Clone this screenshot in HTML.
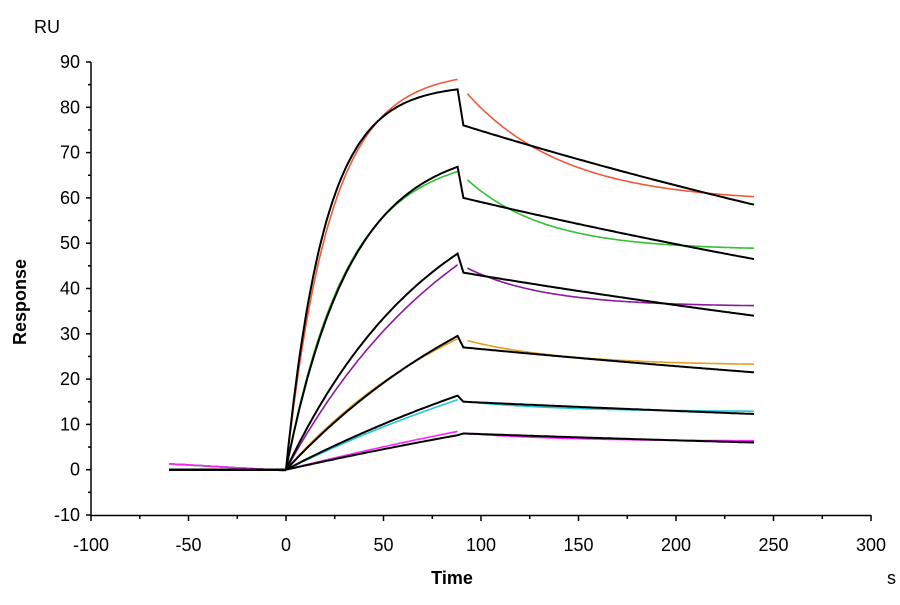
<!DOCTYPE html>
<html><head><meta charset="utf-8"><style>
body{margin:0;background:#fff}
svg text{font-family:"Liberation Sans",Arial,sans-serif;fill:#000}
</style></head><body>
<svg id="s" width="900" height="600" xmlns="http://www.w3.org/2000/svg">
<rect width="900" height="600" fill="#fff"/>
<g id="ax" stroke="#000" stroke-width="1.5" fill="none"></g>
<g id="lab" font-size="18"></g>
<text x="34" y="33" font-size="18">RU</text>
<text x="452" y="584" font-size="18" font-weight="bold" text-anchor="middle">Time</text>
<text x="887" y="584" font-size="18">s</text>
<text transform="translate(26,302) rotate(-90)" font-size="18" font-weight="bold" text-anchor="middle">Response</text>
<g id="cv" fill="none" stroke-width="1.6"></g>
</svg>
<script>
var X=t=>286+t*1.95, Y=v=>469.7-v*4.53;
var ax=document.getElementById('ax'),lab=document.getElementById('lab'),cv=document.getElementById('cv');
var h='<path d="M91 62V516M90 515.5H871"/>';
for(var v=-10;v<=90;v+=5){var y=Y(v);h+='<path d="M'+(v%10?88:86)+' '+y+'H91"/>';if(v%10==0)lab.innerHTML+='<text x="80" y="'+(y+6)+'" text-anchor="end">'+v+'</text>';}
for(var t=-100;t<=300;t+=25){var x=X(t);h+='<path d="M'+x+' 515V'+(t%50?519:521)+'"/>';if(t%50==0)lab.innerHTML+='<text x="'+x+'" y="551" text-anchor="middle">'+t+'</text>';}
ax.innerHTML=h;
function path(f,a,b,c,w){var d='';for(var t=a;t<=b;t+=1){d+=(t==a?'M':'L')+X(t).toFixed(1)+' '+Y(f(t)).toFixed(1);}cv.innerHTML+='<path d="'+d+'" stroke="'+c+'" stroke-width="'+(w||1.6)+'"/>';}
var col=[['#f05a3c',88,0.044,83,59,0.02],['#33c033',70,0.032,64,48.5,0.025],['#8a1a9a',75,0.0105,44.5,36,0.025],['#e0a020',50,0.0098,28.5,23,0.02],['#20c8d8',50,0.0042,15,12.8,0.02],['#ff20ff',40,0.0027,8,6.3,0.02]];
col.forEach(function(c){
 path(function(t){return 1.5*(-t/60)-0.2;},-60,0,c[0]);
 path(function(t){return c[1]*(1-Math.exp(-c[2]*t));},1,88,c[0]);
 path(function(t){return c[4]+(c[3]-c[4])*Math.exp(-c[5]*(t-93));},93,240,c[0]);
});
var bl=[[85,0.05,76,58.5],[72,0.03,60,46.5],[70,0.013,43.5,34],[60,0.0077,27,21.5],[50,0.0045,15,12.3],[40,0.0024,8,6]];
bl.forEach(function(b){
 path(function(t){return 0;},-60,0,'#000',2);
 var kd=Math.log(b[2]/b[3])/149;
 var d='M'+X(0)+' '+Y(0);
 for(var t=1;t<=88;t++)d+='L'+X(t).toFixed(1)+' '+Y(b[0]*(1-Math.exp(-b[1]*t))).toFixed(1);
 for(var t=91;t<=240;t++)d+='L'+X(t).toFixed(1)+' '+Y(b[2]*Math.exp(-kd*(t-91))).toFixed(1);
 cv.innerHTML+='<path d="'+d+'" stroke="#000" stroke-width="2"/>';
});
</script>
</body></html>
